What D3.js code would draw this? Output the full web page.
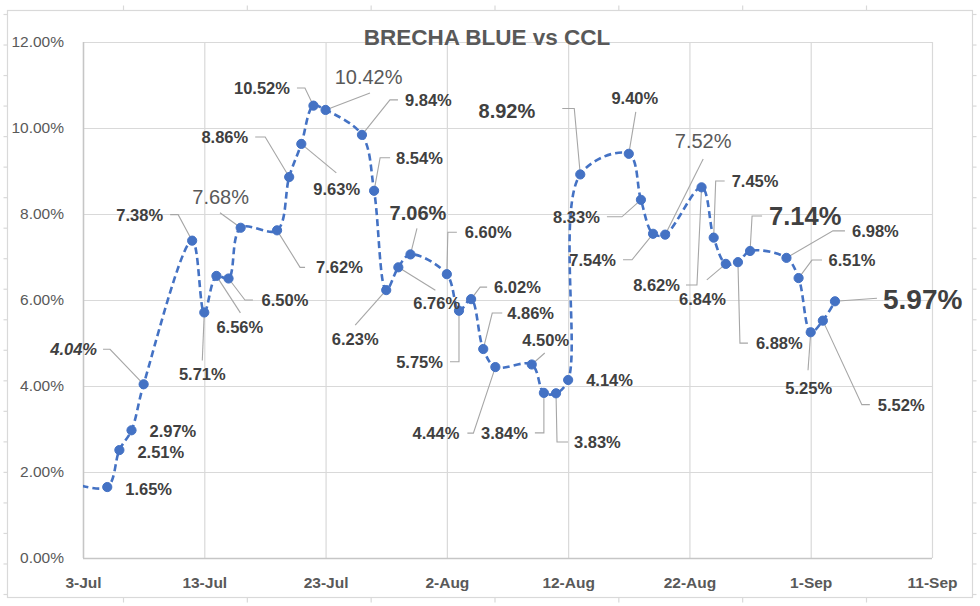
<!DOCTYPE html>
<html><head><meta charset="utf-8">
<script src="https://cdn.jsdelivr.net/npm/d3@7"></script>
<style>
body{margin:0;background:#fff}
svg{display:block}
text{font-family:"Liberation Sans",Arial,sans-serif}
</style>
</head><body>
<svg id="chart" width="980" height="606"></svg>
<script>
// ---------------- DATA ----------------
const title = "BRECHA BLUE vs CCL";
const dates = [
  "2021-07-02","2021-07-05","2021-07-06","2021-07-07","2021-07-08",
  "2021-07-12","2021-07-13","2021-07-14","2021-07-15","2021-07-16",
  "2021-07-19","2021-07-20","2021-07-21","2021-07-22","2021-07-23",
  "2021-07-26","2021-07-27","2021-07-28","2021-07-29","2021-07-30",
  "2021-08-02","2021-08-03","2021-08-04","2021-08-05","2021-08-06",
  "2021-08-09","2021-08-10","2021-08-11","2021-08-12","2021-08-13",
  "2021-08-17","2021-08-18","2021-08-19","2021-08-20",
  "2021-08-23","2021-08-24","2021-08-25","2021-08-26","2021-08-27",
  "2021-08-30","2021-08-31","2021-09-01","2021-09-02","2021-09-03"
];
const values = [
  1.75, 1.65, 2.51, 2.97, 4.04,
  7.38, 5.71, 6.56, 6.50, 7.68,
  7.62, 8.86, 9.63, 10.52, 10.42,
  9.84, 8.54, 6.23, 6.76, 7.06,
  6.60, 5.75, 6.02, 4.86, 4.44,
  4.50, 3.84, 3.83, 4.14, 8.92,
  9.40, 8.33, 7.54, 7.52,
  8.62, 7.45, 6.84, 6.88, 7.14,
  6.98, 6.51, 5.25, 5.52, 5.97
];
// label emphasis kind per point ("" = no label)
const labelKinds = [
  "", "n","n","n","I",
  "n","n","n","n","L",
  "n","n","n","n","L",
  "n","n","n","n","B",
  "n","n","n","n","n",
  "n","n","n","n","B",
  "n","n","n","L",
  "n","n","n","n","X",
  "n","n","n","n","XX"
];
const yTicks = [0, 2, 4, 6, 8, 10, 12];
const xTicks = ["2021-07-03","2021-07-13","2021-07-23","2021-08-02","2021-08-12","2021-08-22","2021-09-01","2021-09-11"];

// ---------------- LAYOUT (label placement relative to point, px) ----------------
const labelPlacement = [
  null,
  {dx:18, dy:2, a:"start", L:[]},
  {dx:18, dy:2, a:"start", L:[]},
  {dx:18, dy:1, a:"start", L:[]},
  {dx:-46.6, dy:-35, a:"end", L:[[-40.6,-35],[-33.6,-35]]},
  {dx:-29, dy:-26, a:"end", L:[[-22,-26],[-14,-26]]},
  {dx:-2, dy:62, a:"middle", L:[[-2,48]]},
  {dx:0, dy:51, a:"start", L:[[24,37]]},
  {dx:33, dy:21.5, a:"start", L:[[24.4,21.5],[16.4,21.5]]},
  {dx:-20, dy:-31, a:"middle", L:[[-20.7,-15]]},
  {dx:39, dy:37, a:"start", L:[[28,37],[23,37]]},
  {dx:-41, dy:-40, a:"end", L:[[-34,-40],[-24,-40]]},
  {dx:12, dy:45, a:"start", L:[[35,29]]},
  {dx:-23.5, dy:-17.6, a:"end", L:[[-16.5,-17.6],[-8.5,-17.6]]},
  {dx:43, dy:-33, a:"middle", L:[[44.4,-17]]},
  {dx:43, dy:-35, a:"start", L:[[36,-35],[28,-35]]},
  {dx:22, dy:-33, a:"start", L:[[16,-33],[6,-33]]},
  {dx:-31, dy:49, a:"middle", L:[[-31,35]]},
  {dx:15, dy:36, a:"start", L:[[37,23]]},
  {dx:7.5, dy:-41, a:"middle", L:[[6.5,-26]]},
  {dx:18, dy:-42, a:"start", L:[[10,-42],[1,-42]]},
  {dx:-16, dy:51, a:"end", L:[[-9,51],[0,51]]},
  {dx:23, dy:-12, a:"start", L:[[16,-12],[9,-12]]},
  {dx:24, dy:-36, a:"start", L:[[19,-36],[9,-36]]},
  {dx:-36, dy:66, a:"end", L:[[-28,66],[-22,66]]},
  {dx:14, dy:-25, a:"middle", L:[[13,-11.5]]},
  {dx:-16, dy:40, a:"end", L:[[-9,40],[0,40]]},
  {dx:18, dy:48.7, a:"start", L:[[12,48.7],[1,48.7]]},
  {dx:18, dy:0, a:"start", L:[]},
  {dx:-45, dy:-63, a:"end", L:[[-18,-66],[-6,-66]]},
  {dx:6, dy:-56, a:"middle", L:[[7,-42]]},
  {dx:-41, dy:17, a:"end", L:[[-34,17],[-19,17]]},
  {dx:-37, dy:26, a:"end", L:[[-30,26],[-21,26]]},
  {dx:38, dy:-93.6, a:"middle", L:[[38,-75.6]]},
  {dx:-21.6, dy:97.7, a:"end", L:[[-15.6,97.7],[-4.6,97.7]]},
  {dx:18, dy:-56.7, a:"start", L:[[11,-56.7],[2,-56.7]]},
  {dx:0, dy:35, a:"end", L:[[-19,16]]},
  {dx:18, dy:81, a:"start", L:[[10,81],[2,81]]},
  {dx:19, dy:-35, a:"start", L:[[12,-35],[2,-35]]},
  {dx:65.5, dy:-27, a:"start", L:[[58.5,-27],[46.5,-27]]},
  {dx:30, dy:-18, a:"start", L:[[23.4,-18],[13.4,-18]]},
  {dx:-2, dy:56, a:"middle", L:[[-2.7,38]]},
  {dx:55, dy:84, a:"start", L:[[47,84],[39,84]]},
  {dx:48, dy:-2, a:"start", L:[[42,-3]]}
];
const kindStyle = {
  n:  {size:16.5, weight:"bold",   style:"normal", fill:"#404040"},
  I:  {size:16.5, weight:"bold",   style:"italic", fill:"#404040"},
  L:  {size:20,   weight:"normal", style:"normal", fill:"#595959"},
  B:  {size:20,   weight:"bold",   style:"normal", fill:"#404040"},
  X:  {size:25.5, weight:"bold",   style:"normal", fill:"#404040"},
  XX: {size:28,   weight:"bold",   style:"normal", fill:"#404040"}
};

// ---------------- CHART ----------------
const svg = d3.select("#chart");
const parse = d3.timeParse("%Y-%m-%d");
const data = dates.map((d, i) => ({date: parse(d), v: values[i], kind: labelKinds[i], pl: labelPlacement[i]}));

const plot = {left: 83, right: 932, top: 42, bottom: 558};
const x = d3.scaleTime().domain([parse(xTicks[0]), parse(xTicks[xTicks.length - 1])]).range([plot.left, plot.right]);
const y = d3.scaleLinear().domain([0, 12]).range([plot.bottom, plot.top]);

svg.append("rect").attr("width", 980).attr("height", 606).attr("fill", "#fff");

// outer frame with ruler ticks
const frame = {l: 7, r: 972, t: 10, b: 597};
svg.append("rect").attr("x", frame.l + 0.5).attr("y", frame.t + 0.5)
  .attr("width", frame.r - frame.l).attr("height", frame.b - frame.t)
  .attr("fill", "none").attr("stroke", "#d9d9d9").attr("stroke-width", 1.2);
const vRuler = d3.scaleLinear().domain([0, 19]).range([14, 594]);
const hRuler = d3.scaleLinear().domain([0, 6]).range([123, 866]);
function ruler(axis, tx, ty) {
  const g = svg.append("g").attr("transform", `translate(${tx},${ty})`).call(axis);
  g.select(".domain").remove();
  g.selectAll("line").attr("stroke", "#d9d9d9").attr("stroke-width", 1.2);
  g.selectAll("text").remove();
}
ruler(d3.axisLeft(vRuler).tickValues(d3.range(20)).tickSize(4).tickFormat(""), frame.l + 0.5, 0);
ruler(d3.axisRight(vRuler).tickValues(d3.range(20)).tickSize(4).tickFormat(""), frame.r + 0.5, 0);
ruler(d3.axisTop(hRuler).tickValues(d3.range(7)).tickSize(5).tickFormat(""), 0, frame.t + 0.5);
ruler(d3.axisBottom(hRuler).tickValues(d3.range(7)).tickSize(5).tickFormat(""), 0, frame.b + 0.5);

// gridlines
const gy = svg.append("g").attr("transform", `translate(${plot.left},0)`)
  .call(d3.axisLeft(y).tickValues(yTicks).tickSize(-(plot.right - plot.left)).tickFormat(d => d.toFixed(2) + "%"));
gy.select(".domain").remove();
gy.selectAll(".tick line").attr("stroke", "#d9d9d9").attr("stroke-width", 1.2);
gy.selectAll(".tick text").attr("x", -19).attr("fill", "#595959")
  .style("font-size", "15.5px").style("font-family", '"Liberation Sans",Arial,sans-serif');

const gx = svg.append("g").attr("transform", `translate(0,${plot.bottom})`)
  .call(d3.axisBottom(x).tickValues(xTicks.map(parse)).tickSize(-(plot.bottom - plot.top)).tickFormat(d3.timeFormat("%-d-%b")));
gx.select(".domain").remove();
gx.selectAll(".tick line").attr("stroke", "#d9d9d9").attr("stroke-width", 1.2);
gx.selectAll(".tick text").attr("y", 25).attr("dy", "0.35em").attr("fill", "#595959")
  .style("font-size", "15.5px").style("font-weight", "bold").style("font-family", '"Liberation Sans",Arial,sans-serif');

// axis lines
svg.append("line").attr("x1", plot.left).attr("x2", plot.right).attr("y1", plot.bottom + 0.5).attr("y2", plot.bottom + 0.5)
  .attr("stroke", "#c6c6c6").attr("stroke-width", 1.5);
svg.append("line").attr("x1", plot.left + 0.5).attr("x2", plot.left + 0.5).attr("y1", plot.top).attr("y2", plot.bottom)
  .attr("stroke", "#c6c6c6").attr("stroke-width", 1.5);

// title
svg.append("text").attr("x", 487).attr("y", 45).attr("text-anchor", "middle")
  .attr("fill", "#595959").style("font-size", "22.5px").style("font-weight", "bold").text(title);

// clip
svg.append("clipPath").attr("id", "clip").append("rect")
  .attr("x", plot.left).attr("y", plot.top - 10).attr("width", plot.right - plot.left).attr("height", plot.bottom - plot.top + 10);

// leader lines
const labeled = data.filter(d => d.pl);
svg.append("g").selectAll("path").data(labeled.filter(d => d.pl.L.length)).join("path")
  .attr("d", d => {
    const px = x(d.date), py = y(d.v);
    const pts = d.pl.L.map(p => [px + p[0], py + p[1]]).concat([[px, py]]);
    return d3.line()(pts);
  })
  .attr("fill", "none").attr("stroke", "#a6a6a6").attr("stroke-width", 1.1);

// line
const lineG = svg.append("g").attr("clip-path", "url(#clip)");
lineG.append("path").datum(data)
  .attr("d", d3.line().x(d => x(d.date)).y(d => y(d.v)).curve(d3.curveCatmullRom.alpha(0.5)))
  .attr("fill", "none").attr("stroke", "#4472C4").attr("stroke-width", 2.6)
  .attr("stroke-dasharray", "7,4");

// markers
lineG.selectAll("circle").data(data.filter(d => d.kind !== "")).join("circle")
  .attr("cx", d => x(d.date)).attr("cy", d => y(d.v)).attr("r", 4.6)
  .attr("fill", "#4472C4").attr("stroke", "#4472C4").attr("stroke-width", 1);

// labels
svg.append("g").selectAll("text").data(labeled).join("text")
  .attr("x", d => x(d.date) + d.pl.dx)
  .attr("y", d => y(d.v) + d.pl.dy)
  .attr("text-anchor", d => d.pl.a)
  .attr("dominant-baseline", "central")
  .attr("fill", d => kindStyle[d.kind].fill)
  .style("font-size", d => kindStyle[d.kind].size + "px")
  .style("font-weight", d => kindStyle[d.kind].weight)
  .style("font-style", d => kindStyle[d.kind].style)
  .text(d => d.v.toFixed(2) + "%");
</script>
</body></html>
